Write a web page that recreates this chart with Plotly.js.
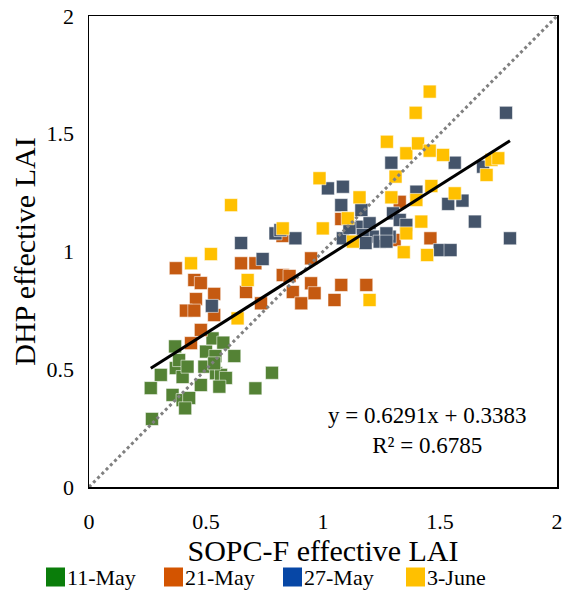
<!DOCTYPE html>
<html>
<head>
<meta charset="utf-8">
<script src="https://cdn.plot.ly/plotly-3.0.1.min.js"></script>
<style>
html,body{margin:0;padding:0;background:#fff;}
#chart{width:572px;height:598px;}
</style>
</head>
<body>
<div id="chart"></div>
<script>
// ---- data ----
const seriesNames = ['11-May', '21-May', '27-May', '3-June'];

const may11X = [0.269,0.264,0.307,0.368,0.371,0.385,0.357,0.400,0.400,0.428,0.411,0.421,0.478,0.493,0.500,0.528,0.574,0.540,0.621,0.543,0.564,0.585,0.557,0.711,0.782,0.535];
const may11Y = [0.289,0.420,0.476,0.597,0.505,0.539,0.391,0.467,0.369,0.378,0.334,0.511,0.433,0.511,0.575,0.631,0.613,0.556,0.556,0.483,0.476,0.463,0.426,0.419,0.485,0.525];

const may21X = [0.371,0.650,0.711,0.671,0.450,0.478,0.535,0.457,0.414,0.450,0.535,0.478,0.436,0.735,0.949,0.828,0.857,0.871,0.907,0.949,0.964,1.049,1.078,1.185,0.827,1.078,1.328,1.306,1.459];
const may21Y = [0.929,0.950,0.950,0.828,0.879,0.866,0.820,0.798,0.749,0.749,0.730,0.667,0.611,0.780,0.971,0.900,0.896,0.828,0.780,0.865,0.823,0.794,0.858,0.858,1.066,1.138,1.211,1.049,1.056];

const may27X = [0.525,0.650,0.742,0.797,0.818,0.882,1.021,1.085,1.078,1.164,1.085,1.164,1.199,1.213,1.242,1.285,1.299,1.328,1.356,1.271,1.271,1.292,1.399,1.563,1.684,1.782,1.535,1.596,1.649,1.799,1.499,1.545,1.170,1.113,1.182];
const may27Y = [0.769,1.036,0.968,1.077,1.091,1.056,1.268,1.275,1.197,1.176,1.056,1.105,1.120,1.063,1.042,1.063,1.162,1.134,1.113,1.077,1.042,1.377,1.254,1.377,1.360,1.589,1.202,1.216,1.127,1.056,1.006,1.006,1.070,1.100,1.036];

const jun3X = [0.436,0.521,0.607,0.678,0.635,0.828,0.985,0.999,1.106,1.156,1.128,1.199,1.292,1.310,1.273,1.356,1.406,1.456,1.513,1.456,1.396,1.399,1.463,1.563,1.420,1.356,1.345,1.445,1.720,1.749,1.699];
const jun3Y = [0.950,0.989,1.197,0.879,0.716,1.098,1.311,1.098,1.141,1.230,1.042,0.794,1.230,1.318,1.466,1.417,1.459,1.428,1.410,1.679,1.589,1.219,1.278,1.247,1.127,1.077,0.997,0.985,1.389,1.396,1.325];

const trendSlope = 0.6291;
const trendIntercept = 0.3383;
const trendR2 = 0.6785;

const axisTicks = [0, 0.5, 1, 1.5, 2];
const axisTickText = ['0', '0.5', '1', '1.5', '2'];

// ---- styles ----
const markerColors = ['#548235', '#C55A11', '#44546A', '#FFC000'];
const legendColors = ['#0A7D0A', '#D35400', '#0747A6', '#FFC000'];
const FONT = 'Liberation Serif, Times New Roman, serif';

const xs = [may11X, may21X, may27X, jun3X];
const ys = [may11Y, may21Y, may27Y, jun3Y];

const traces = xs.map((x, i) => ({
  type: 'scatter', mode: 'markers', name: seriesNames[i],
  x: x, y: ys[i],
  marker: {symbol: 'square', size: 13, color: markerColors[i],
           line: {color: 'rgba(255,255,255,0.55)', width: 1}},
  hoverinfo: 'x+y', showlegend: false
}));

// 1:1 line
traces.push({type: 'scatter', mode: 'lines', x: [axisTicks[0], axisTicks[4]], y: [axisTicks[0], axisTicks[4]],
  line: {color: '#808080', width: 3, dash: 'dot'}, showlegend: false, hoverinfo: 'skip'});

// linear trend line over the data range
const allX = [].concat(...xs);
const xmin = Math.min(...allX), xmax = Math.max(...allX);
traces.push({type: 'scatter', mode: 'lines', x: [xmin, xmax],
  y: [trendSlope * xmin + trendIntercept, trendSlope * xmax + trendIntercept],
  line: {color: '#000000', width: 3}, showlegend: false, hoverinfo: 'skip'});

// ---- custom legend (paper coords from pixel layout) ----
const L = 89, R = 15, T = 16, B = 111, W = 572, H = 598;
const pw = W - L - R, ph = H - T - B;
const px2x = p => (p - L) / pw;
const py2y = p => (H - B - p) / ph;

const legendSquareLeft = [46, 164, 283, 406];
const legendY = 577, sq = 19;
const shapes = [], annotations = [];
seriesNames.forEach((n, i) => {
  shapes.push({type: 'rect', xref: 'paper', yref: 'paper',
    x0: px2x(legendSquareLeft[i]), x1: px2x(legendSquareLeft[i] + sq),
    y0: py2y(legendY + sq / 2), y1: py2y(legendY - sq / 2),
    fillcolor: legendColors[i], line: {width: 0}});
  annotations.push({xref: 'paper', yref: 'paper', x: px2x(legendSquareLeft[i] + sq), y: py2y(legendY),
    xanchor: 'left', yanchor: 'middle', showarrow: false, text: n,
    font: {family: FONT, size: 22, color: '#000'}});
});

annotations.push({xref: 'paper', yref: 'paper', x: px2x(427), y: py2y(430),
  xanchor: 'center', yanchor: 'middle', showarrow: false, align: 'center',
  text: 'y = ' + trendSlope.toFixed(4) + 'x + ' + trendIntercept.toFixed(4) + '<br>R² = ' + trendR2.toFixed(4),
  font: {family: FONT, size: 23, color: '#000'}});

const axisCommon = {
  range: [0, 2], tickvals: axisTicks, ticktext: axisTickText,
  showgrid: false, zeroline: false, showline: true, mirror: true,
  linecolor: '#000', linewidth: 1.5, ticks: 'outside', tickcolor: 'rgba(0,0,0,0)',
  tickfont: {family: FONT, size: 22, color: '#000'}, fixedrange: true
};

const layout = {
  width: W, height: H, margin: {l: L, r: R, t: T, b: B},
  paper_bgcolor: '#fff', plot_bgcolor: '#fff', showlegend: false,
  font: {family: FONT, color: '#000'},
  xaxis: Object.assign({}, axisCommon, {ticklen: 14,
    title: {text: 'SOPC-F effective LAI', font: {family: FONT, size: 30, color: '#000'}, standoff: 2}}),
  yaxis: Object.assign({}, axisCommon, {ticklen: 9,
    title: {text: 'DHP effective LAI', font: {family: FONT, size: 30, color: '#000'}, standoff: 2}}),
  shapes: shapes, annotations: annotations
};

Plotly.newPlot('chart', traces, layout, {staticPlot: true, displayModeBar: false});
</script>
</body>
</html>
